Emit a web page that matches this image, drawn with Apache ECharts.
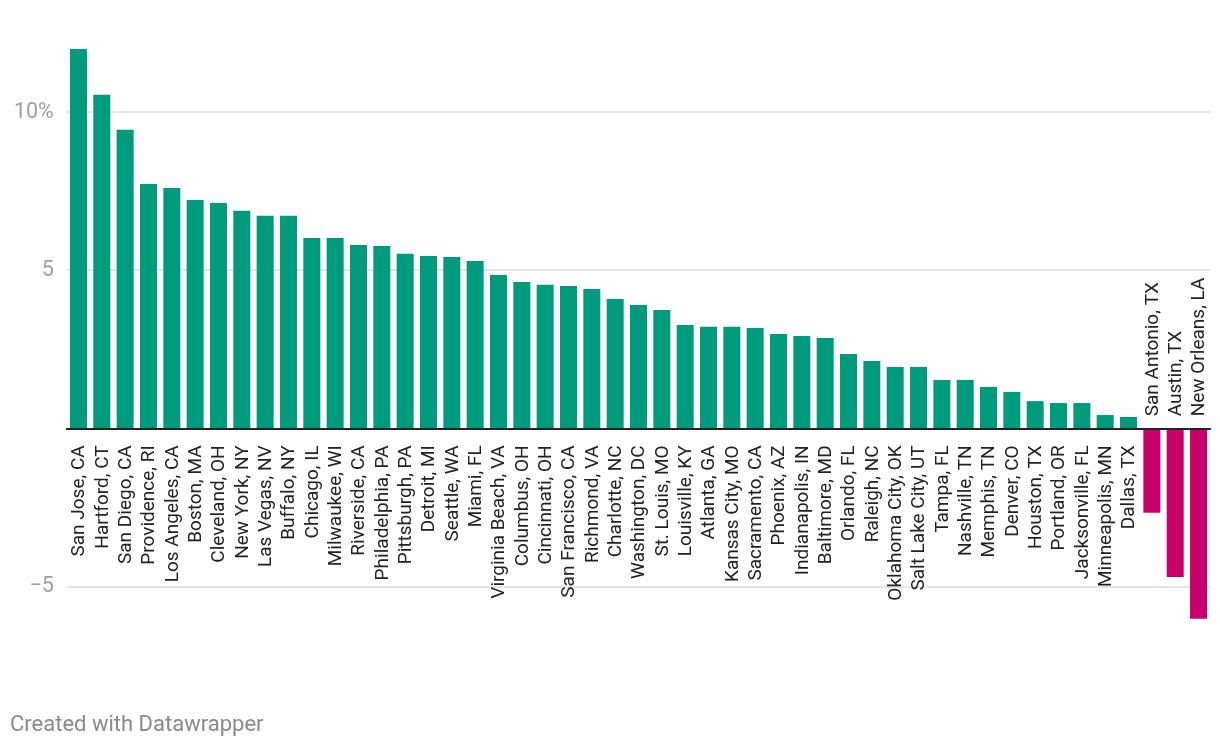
<!DOCTYPE html>
<html>
<head>
<meta charset="utf-8">
<script src="https://cdn.jsdelivr.net/npm/echarts@6/dist/echarts.min.js"></script>
<style>
html,body{margin:0;padding:0;background:#fff;}
#chart{width:1220px;height:750px;}
</style>
</head>
<body>
<div id="chart"></div>
<script>
var cities = ["San Jose, CA","Hartford, CT","San Diego, CA","Providence, RI","Los Angeles, CA","Boston, MA","Cleveland, OH","New York, NY","Las Vegas, NV","Buffalo, NY","Chicago, IL","Milwaukee, WI","Riverside, CA","Philadelphia, PA","Pittsburgh, PA","Detroit, MI","Seattle, WA","Miami, FL","Virginia Beach, VA","Columbus, OH","Cincinnati, OH","San Francisco, CA","Richmond, VA","Charlotte, NC","Washington, DC","St. Louis, MO","Louisville, KY","Atlanta, GA","Kansas City, MO","Sacramento, CA","Phoenix, AZ","Indianapolis, IN","Baltimore, MD","Orlando, FL","Raleigh, NC","Oklahoma City, OK","Salt Lake City, UT","Tampa, FL","Nashville, TN","Memphis, TN","Denver, CO","Houston, TX","Portland, OR","Jacksonville, FL","Minneapolis, MN","Dallas, TX","San Antonio, TX","Austin, TX","New Orleans, LA"];
var changes = [12.0,10.55,9.44,7.73,7.6,7.22,7.13,6.88,6.72,6.72,6.02,6.02,5.8,5.77,5.52,5.45,5.42,5.29,4.85,4.63,4.54,4.5,4.41,4.09,3.9,3.74,3.27,3.21,3.21,3.17,2.98,2.92,2.86,2.35,2.13,1.94,1.94,1.53,1.53,1.31,1.15,0.86,0.8,0.8,0.42,0.36,-2.67,-4.7,-6.02];
var yTickLabels = {"10":"10%","5":"5","-5":"\u22125"};

var POS = '#009b7d', NEG = '#c7006c';
var chart = echarts.init(document.getElementById('chart'), null, {renderer:'canvas'});

chart.setOption({
  animation: false,
  backgroundColor: '#ffffff',
  textStyle: {fontFamily: 'Roboto'},
  grid: {left: 66.8, right: 9.8, top: 33.1, bottom: 5.5, containLabel: false, outerBoundsMode: 'none'},
  xAxis: {
    type: 'category',
    data: cities,
    boundaryGap: true,
    axisLine: {onZero: true, lineStyle: {color: '#222222', width: 2}},
    axisTick: {show: false},
    splitLine: {show: false},
    axisLabel: {show: false},
    z: 5
  },
  yAxis: {
    type: 'value',
    min: -10, max: 12.5, interval: 5,
    axisLine: {show: false},
    axisTick: {show: false},
    splitLine: {show: true, lineStyle: {color: ['rgba(0,0,0,0)','#e6e6e6','#e6e6e6','#e6e6e6','#e6e6e6','rgba(0,0,0,0)'], width: 2}},
    axisLabel: {
      margin: 13, fontSize: 21.5, color: '#a0a0a0', fontFamily: 'Roboto',
      showMinLabel: true, showMaxLabel: true,
      formatter: function(v){ var k = String(Math.round(v*100)/100); return yTickLabels[k] || ''; }
    }
  },
  series: [{
    type: 'bar',
    data: changes.map(function(v){ return {value: v, itemStyle: {color: v >= 0 ? POS : NEG}}; }),
    barWidth: 17,
    z: 2
  }, {
    type: 'custom',
    data: changes.map(function(v, i){ return [i, v]; }),
    z: 6,
    silent: true,
    renderItem: function(params, api){
      var idx = api.value(0), v = api.value(1);
      var p = api.coord([idx, 0]);
      var neg = v < 0;
      return {
        type: 'text',
        x: p[0] + 1,
        y: neg ? p[1] - 12 : p[1] + 17,
        rotation: Math.PI / 2,
        style: {
          text: cities[idx],
          align: neg ? 'left' : 'right',
          verticalAlign: 'middle',
          fontSize: 19,
          fontFamily: 'Roboto',
          fill: '#222222'
        }
      };
    }
  }],
  graphic: [{
    type: 'text', left: 10, top: 714,
    style: {text: 'Created with Datawrapper', fill: '#8a8a8a', fontSize: 22, fontFamily: 'Roboto'}
  }]
});
</script>
</body>
</html>
